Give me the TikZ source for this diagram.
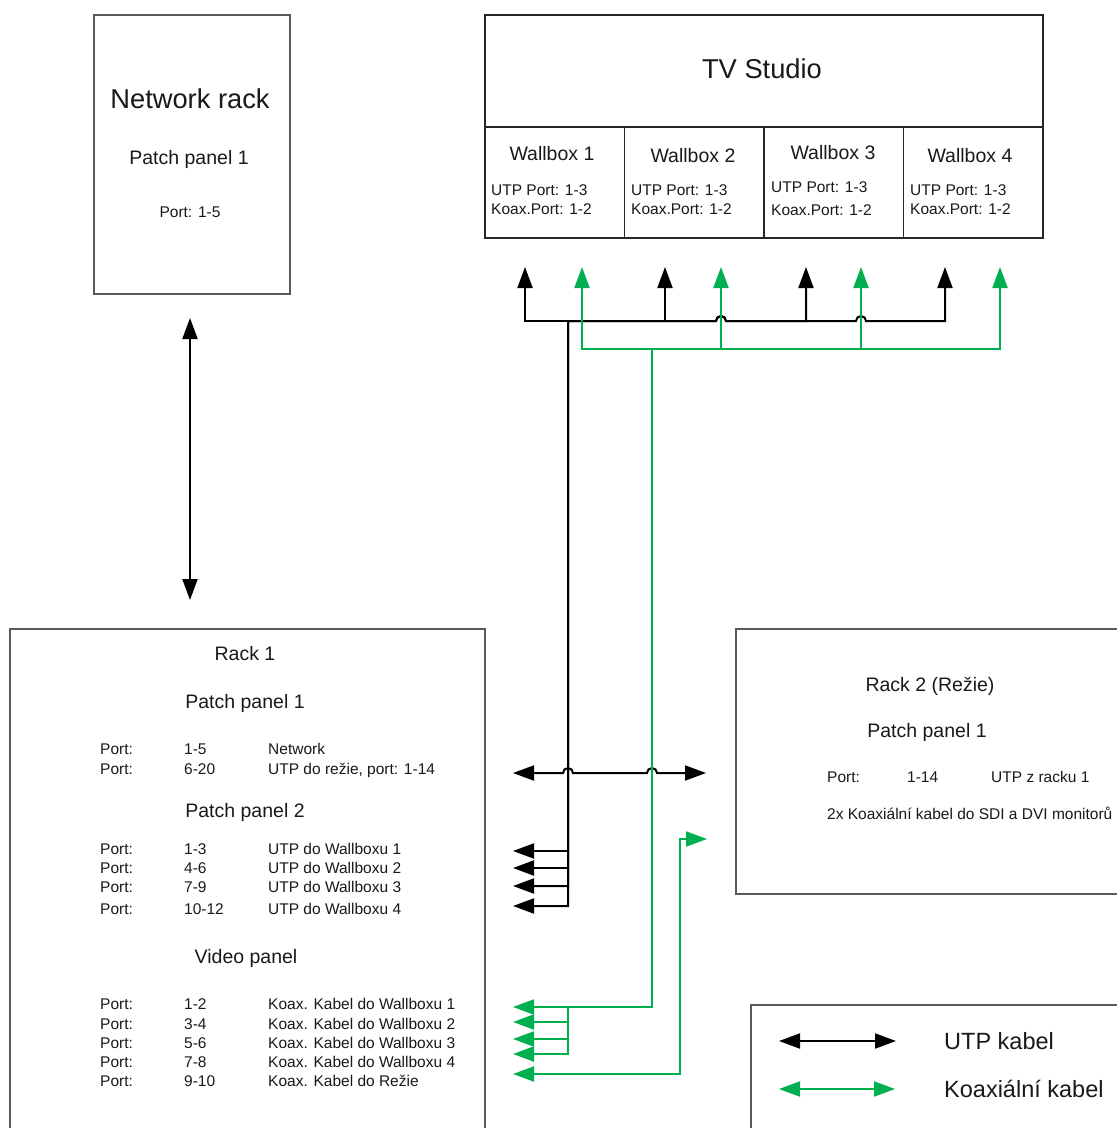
\documentclass[tikz,border=0pt]{standalone}
\usepackage{fontspec}
\setmainfont{Liberation Sans}
\usetikzlibrary{arrows.meta}
\definecolor{coax}{RGB}{0,176,80}
\definecolor{frame}{RGB}{90,90,90}
\definecolor{ink}{RGB}{25,25,25}

\begin{document}
\begin{tikzpicture}[x=1pt,y=-1pt,
  box/.style={draw=frame, line width=1.5pt, inner sep=0pt, anchor=north west},
  cell/.style={draw=black!85, line width=1.5pt, inner sep=0pt, anchor=north west},
  utp/.style={draw=black, line width=2pt},
  coaxline/.style={draw=coax, line width=2pt},
  both/.style={{Triangle[length=21pt,width=15pt]}-{Triangle[length=21pt,width=15pt]}},
  txt/.style={inner sep=0pt, text=ink},
  big/.style={txt, font=\fontsize{27.3}{32}\selectfont},
  mid/.style={txt, font=\fontsize{19.5}{23}\selectfont},
  small/.style={txt, font=\fontsize{15.5}{18}\selectfont},
  legtext/.style={txt, font=\fontsize{23.5}{28}\selectfont},
]
\useasboundingbox (0,0) rectangle (1117,1128);
\fill[white] (0,0) rectangle (1117,1128);
\clip (0,0) rectangle (1117,1128);

% ---------- boxes ----------
\node[box, minimum width=196pt, minimum height=279pt] (netrack) at (93,14) {};
\node[cell, minimum width=558pt, minimum height=112pt] (tv) at (484,14) {};
\node[cell, minimum width=139.5pt, minimum height=111pt] (wb1) at (484,126) {};
\node[cell, minimum width=139.5pt, minimum height=111pt] (wb2) at (623.5,126) {};
\node[cell, minimum width=139.5pt, minimum height=111pt] (wb3) at (763,126) {};
\node[cell, minimum width=139.5pt, minimum height=111pt] (wb4) at (902.5,126) {};
\node[box, minimum width=475pt, minimum height=600pt] (rack1) at (9,628) {};
\node[box, minimum width=450pt, minimum height=265pt] (rack2) at (735,628) {};
\node[box, minimum width=450pt, minimum height=200pt] (legend) at (750,1004) {};

% ---------- network rack ----------
\node[big, anchor=base] (nettitle) at (190,108) {Network rack};
\node[mid, anchor=base] (netpp) at (189,164) {Patch panel 1};
\node[small, anchor=base] (netport) at (190,217.5) {Port: 1-5};

% ---------- TV studio ----------
\node[big, anchor=base] (tvtitle) at (762,78) {TV Studio};
\foreach \n/\cx/\cy/\lx/\uy/\ky in {1/552/160/491/195.5/214.5, 2/693/162/631/195.5/214.5,
                                    3/833/159/771/192.5/215.5, 4/970/162/910/195.5/214.5}{
  \node[mid, anchor=base] (wbt\n) at (\cx,\cy) {Wallbox \n};
  \node[small, anchor=base west] (wbu\n) at (\lx,\uy) {UTP Port: 1-3};
  \node[small, anchor=base west] (wbk\n) at (\lx,\ky) {Koax.Port: 1-2};
}

% ---------- rack 1 ----------
\node[mid, anchor=base] (r1title) at (245,660) {Rack 1};
\node[mid, anchor=base] (r1pp1) at (245,708) {Patch panel 1};
\node[mid, anchor=base] (r1pp2) at (245,817) {Patch panel 2};
\node[mid, anchor=base] (r1vid) at (246,963) {Video panel};
\foreach \y/\num/\desc [count=\i] in {
    754.5/1-5/Network, 774.5/6-20/{UTP do režie, port: 1-14},
    854.5/1-3/UTP do Wallboxu 1, 873.5/4-6/UTP do Wallboxu 2,
    892.5/7-9/UTP do Wallboxu 3, 914.5/10-12/UTP do Wallboxu 4,
    1009.5/1-2/Koax. Kabel do Wallboxu 1, 1029.5/3-4/Koax. Kabel do Wallboxu 2,
    1048.5/5-6/Koax. Kabel do Wallboxu 3, 1067.5/7-8/Koax. Kabel do Wallboxu 4,
    1086.5/9-10/Koax. Kabel do Režie}{
  \node[small, anchor=base west] (r1port\i) at (100,\y) {Port:};
  \node[small, anchor=base west] (r1num\i) at (184,\y) {\num};
  \node[small, anchor=base west] (r1desc\i) at (268,\y) {\desc};
}

% ---------- rack 2 ----------
\node[mid, anchor=base] (r2title) at (930,691) {Rack 2 (Režie)};
\node[mid, anchor=base] (r2pp) at (927,737) {Patch panel 1};
\node[small, anchor=base west] (r2port) at (827,782.5) {Port:};
\node[small, anchor=base west] (r2num) at (907,782.5) {1-14};
\node[small, anchor=base west] (r2desc) at (991,782.5) {UTP z racku 1};
\node[small, anchor=base west] (r2coaxtxt) at (827,819.5) {2x Koaxiální kabel do SDI a DVI monitorů};

% ---------- port coordinates ----------
\coordinate (wb1u) at (525,267);  \coordinate (wb1k) at (582,267);
\coordinate (wb2u) at (665,267);  \coordinate (wb2k) at (721,267);
\coordinate (wb3u) at (806,267);  \coordinate (wb3k) at (861,267);
\coordinate (wb4u) at (945,267);  \coordinate (wb4k) at (1000,267);
\coordinate (netdown) at (190,318); \coordinate (r1up) at (190,600);
\coordinate (r1utp) at (513,773);  \coordinate (r2utp) at (706,773);
\coordinate (r1pa) at (513,851);   \coordinate (r1pb) at (513,868);
\coordinate (r1pc) at (513,886);   \coordinate (r1pd) at (513,906);
\coordinate (r1va) at (513,1007);  \coordinate (r1vb) at (513,1022);
\coordinate (r1vc) at (513,1039);  \coordinate (r1vd) at (513,1054);
\coordinate (r1ve) at (513,1074);  \coordinate (r2coax) at (707,839);
\coordinate (utpbus) at (568,321); \coordinate (coaxbus) at (652,349);
\coordinate (coaxsplit) at (568,1007);

% ---------- UTP cables ----------
\draw[utp, both] (netdown) -- (r1up);
\draw[utp, both] (r1utp) -- (563,773) arc[start angle=180,end angle=0,x radius=5pt,y radius=5pt]
  -- (647,773) arc[start angle=180,end angle=0,x radius=5pt,y radius=5pt] -- (r2utp);
\draw[utp, both] (r1pa) -| (utpbus) -| (wb1u);
\draw[utp, both] (r1pb) -| (utpbus) -| (wb2u);
\draw[utp, both] (r1pc) -| (utpbus) -- (716,321)
  arc[start angle=180,end angle=0,x radius=5pt,y radius=5pt] -- (806,321) -- (wb3u);
\draw[utp, both] (r1pd) -| (utpbus) -- (716,321)
  arc[start angle=180,end angle=0,x radius=5pt,y radius=5pt] -- (856,321)
  arc[start angle=180,end angle=0,x radius=5pt,y radius=5pt] -- (945,321) -- (wb4u);

% ---------- coaxial cables ----------
\draw[coaxline, both] (r1va) -| (coaxbus) -| (wb1k);
\draw[coaxline, both] (r1vb) -| (coaxsplit) -| (coaxbus) -| (wb2k);
\draw[coaxline, both] (r1vc) -| (coaxsplit) -| (coaxbus) -| (wb3k);
\draw[coaxline, both] (r1vd) -| (coaxsplit) -| (coaxbus) -| (wb4k);
\draw[coaxline, both] (r1ve) -| (r2coax -| 680,0) -- (r2coax);

% ---------- legend ----------
\coordinate (legua) at (779,1041); \coordinate (legub) at (896,1041);
\coordinate (legka) at (779,1089); \coordinate (legkb) at (895,1089);
\draw[utp, both] (legua) -- (legub);
\draw[coaxline, both] (legka) -- (legkb);
\node[legtext, anchor=base west] (legutp) at (944,1049.5) {UTP kabel};
\node[legtext, anchor=base west] (legcoax) at (944,1097.5) {Koaxiální kabel};
\end{tikzpicture}
\end{document}
